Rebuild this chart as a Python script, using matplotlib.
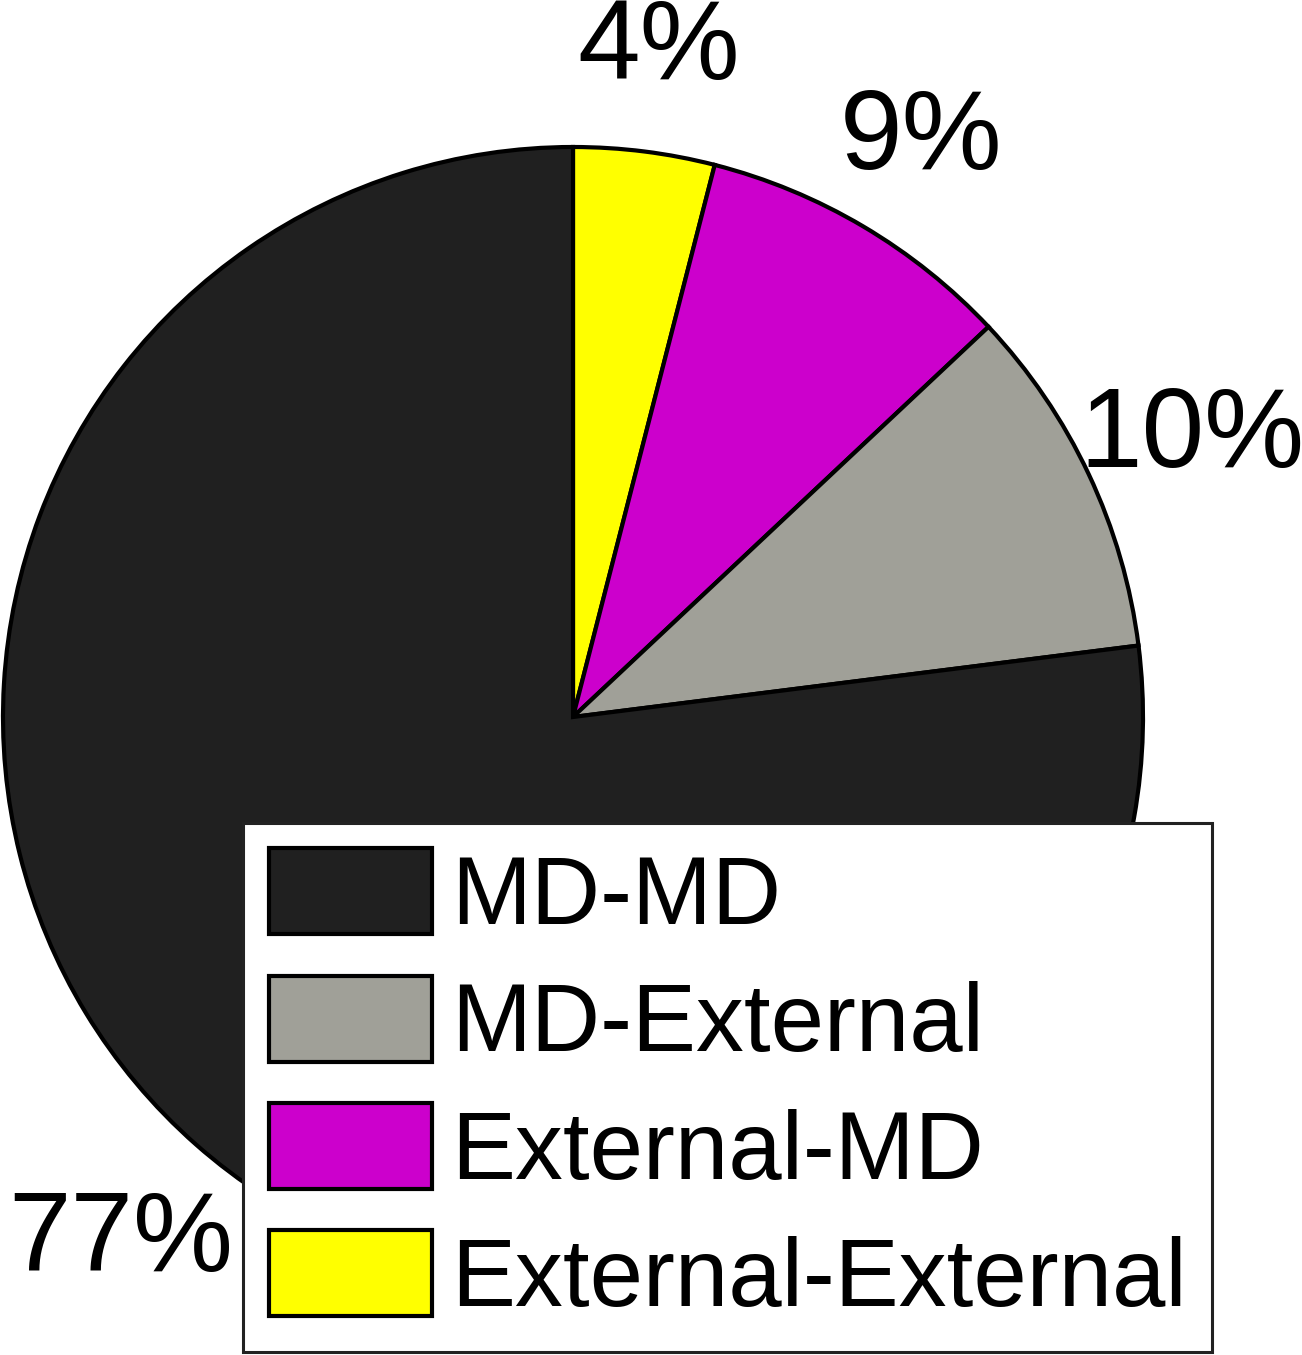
import matplotlib.pyplot as plt

plt.rcParams['font.family'] = ['Liberation Sans', 'DejaVu Sans']

# wedges drawn clockwise from 12 o'clock
labels = ["External-External", "External-MD", "MD-External", "MD-MD"]
shares = [4, 9, 10, 77]
colors = ["#ffff00", "#cc00cc", "#a0a098", "#202020"]
legend_order = ["MD-MD", "MD-External", "External-MD", "External-External"]

W, H = 1302, 1355
fig = plt.figure(figsize=(W / 100, H / 100), dpi=100)

# pie centre ~ (573, 717) px, radius ~ 570 px
cx, cy, r = 573, 717, 570
ax = fig.add_axes([(cx - r) / W, (H - cy - r) / H, 2 * r / W, 2 * r / H])
wedges, texts, autotexts = ax.pie(
    shares,
    colors=colors,
    startangle=90,
    counterclock=False,
    autopct=lambda p: f"{p:.0f}%",
    pctdistance=1.2,
    radius=1,
    wedgeprops=dict(edgecolor="black", linewidth=3),
    textprops=dict(fontsize=81, color="black"),
)
for t in autotexts:
    t.set_verticalalignment("center_baseline")
ax.set_xlim(-1, 1)
ax.set_ylim(-1, 1)
ax.set_aspect("equal")

handles = [wedges[labels.index(n)] for n in legend_order]
leg = fig.legend(
    handles,
    legend_order,
    loc="lower left",
    bbox_to_anchor=(243 / W, 3 / H),
    bbox_transform=fig.transFigure,
    fontsize=69,
    handlelength=1.7,
    handleheight=1.0,
    labelspacing=0.33,
    handletextpad=0.2,
    borderpad=0.27,
    borderaxespad=0,
    fancybox=False,
    framealpha=1,
    edgecolor="#222222",
)
leg.get_frame().set_linewidth(2.2)

fig.savefig("out.png", dpi=100)
